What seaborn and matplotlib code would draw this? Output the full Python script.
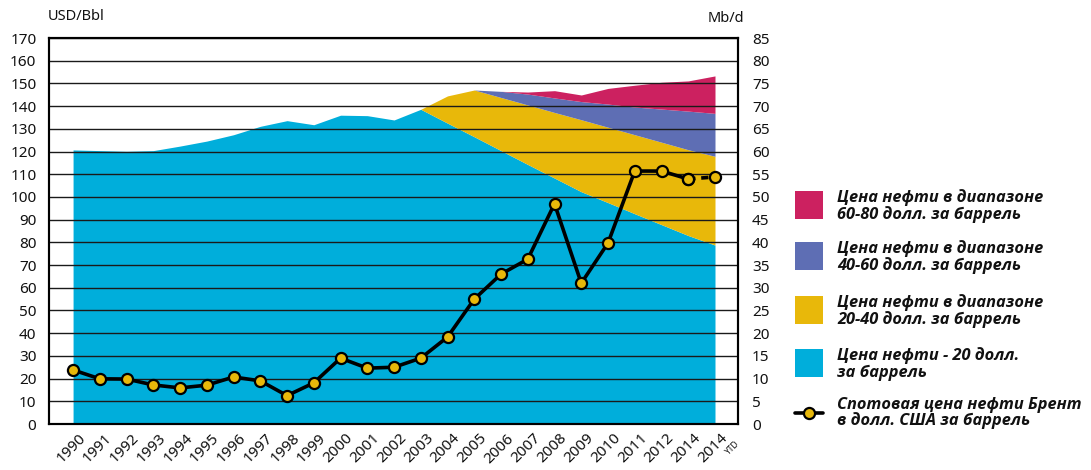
import numpy as np
import seaborn as sns
import matplotlib.pyplot as plt
import matplotlib.transforms as mtrans
from matplotlib.patches import Rectangle
from matplotlib.lines import Line2D

sns.set_theme(style="white")
plt.rcParams["font.family"] = ["Noto Sans", "DejaVu Sans"]

# -------------------------
# данные
# -------------------------
years = ["1990", "1991", "1992", "1993", "1994", "1995", "1996", "1997", "1998",
         "1999", "2000", "2001", "2002", "2003", "2004", "2005", "2006", "2007",
         "2008", "2009", "2010", "2011", "2012", "2014", "2014"]
# спотовая цена Brent, USD/bbl
brent = [23.8, 19.9, 19.8, 17.2, 15.9, 17.1, 20.7, 19.0, 12.5, 18.1, 29.0, 24.6,
         25.0, 29.0, 38.3, 55.0, 66.0, 72.6, 97.0, 62.0, 79.7, 111.4, 111.4, 107.9, 108.8]
# объемы добычи по диапазонам цены, Mb/d
vol_20 = [60.35, 60.2, 60.05, 60.2, 61.2, 62.3, 63.7, 65.55, 66.8, 65.9, 68.0, 67.9,
          66.95, 69.3, 66.25, 63.25, 60.2, 57.15, 54.15, 51.15, 48.75, 46.3, 43.9, 41.5, 39.4]
vol_20_40 = [0, 0, 0, 0, 0, 0, 0, 0, 0, 0, 0, 0,
             0, 0, 6.0, 10.3, 11.7, 13.1, 14.45, 15.85, 16.6, 17.4, 18.15, 18.9, 19.55]
vol_40_60 = [0, 0, 0, 0, 0, 0, 0, 0, 0, 0, 0, 0,
             0, 0, 0, 0, 1.35, 2.4, 3.2, 4.0, 5.1, 6.1, 7.3, 8.5, 9.45]
vol_60_80 = [0, 0, 0, 0, 0, 0, 0, 0, 0, 0, 0, 0,
             0, 0, 0, 0, 0, 0.45, 1.6, 1.45, 3.45, 4.8, 5.9, 6.65, 8.25]

c_blue, c_yellow, c_purple, c_red = "#00AEDB", "#E8B80A", "#5E6EB4", "#CC2160"
leg_font = ["Open Sans", "Lato", "Roboto", "DejaVu Sans"]

W, H = 1091, 470
fig = plt.figure(figsize=(W / 100, H / 100), dpi=100)
ax = fig.add_axes([49 / W, 1 - 424 / H, (738 - 49) / W, (424 - 38) / H])
x = np.arange(len(years))

ax.stackplot(x, vol_20, vol_20_40, vol_40_60, vol_60_80,
             colors=[c_blue, c_yellow, c_purple, c_red], linewidth=0)
ax.set_xlim(-0.9, 24.86)
ax.set_ylim(0, 85)
ax.set_yticks(np.arange(0, 86, 5))
ax.grid(axis="y", color="#1a1a1a", lw=1.0)
ax.grid(axis="x", visible=False)
ax.set_axisbelow(False)

ax2 = ax.twinx()
ax2.set_ylim(0, 170)
ax2.set_yticks(np.arange(0, 171, 10))
ax2.grid(False)
ax.yaxis.tick_right()
ax2.yaxis.tick_left()

# цена Brent
sns.lineplot(x=x[-2:], y=brent[-2:], ax=ax2, color="black", lw=2.6,
             linestyle=(0, (2, 1.6)), marker="o", markersize=8,
             markerfacecolor=c_yellow, markeredgecolor="black", markeredgewidth=1.6)
sns.lineplot(x=x[:-1], y=brent[:-1], ax=ax2, color="black", lw=2.6,
             marker="o", markersize=8,
             markerfacecolor=c_yellow, markeredgecolor="black", markeredgewidth=1.6)

for a in (ax, ax2):
    for s in a.spines.values():
        s.set_color("black")
        s.set_linewidth(1.5)
    a.tick_params(axis="y", length=0, labelsize=11, colors="#111111")
    a.set_xlabel("")
    a.set_ylabel("")
ax2.tick_params(axis="y", pad=9)
ax.tick_params(axis="y", pad=10)

ax.set_xticks(x)
ax.set_xticklabels(years, rotation=45, ha="right", rotation_mode="anchor",
                   fontsize=11, color="#111111")
ax.tick_params(axis="x", length=0, pad=5)
shift = mtrans.ScaledTranslation(5 / 100, 0, fig.dpi_scale_trans)
for lbl in ax.get_xticklabels():
    lbl.set_transform(lbl.get_transform() + shift)
ax.text(24.35, -3.4, "YTD", fontsize=6, rotation=45, ha="left", va="top",
        color="#111111")

fig.text(48 / W, 1 - 17 / H, "USD/Bbl", fontsize=10.5, ha="left", va="center", color="#111111")
fig.text(726 / W, 1 - 18 / H, "Mb/d", fontsize=10.5, ha="center", va="center", color="#111111")

# легенда
items = [
    (c_red, 205, "Цена нефти в диапазоне\n60-80 долл. за баррель"),
    (c_purple, 256, "Цена нефти в диапазоне\n40-60 долл. за баррель"),
    (c_yellow, 310, "Цена нефти в диапазоне\n20-40 долл. за баррель"),
    (c_blue, 363, "Цена нефти - 20 долл.\nза баррель"),
]
for col, yc, label in items:
    fig.add_artist(Rectangle((795 / W, 1 - (yc + 14) / H), 28 / W, 28 / H,
                             transform=fig.transFigure, color=col, lw=0))
    fig.text(837 / W, 1 - (yc + 1) / H, label, fontsize=11.8, fontweight="bold",
             fontstyle="italic", family=leg_font, ha="left", va="center",
             linespacing=1.0, color="#111111")

fig.add_artist(Line2D([795 / W, 823 / W], [1 - 413 / H] * 2, transform=fig.transFigure,
                      color="black", lw=2.6))
fig.add_artist(Line2D([809 / W], [1 - 413 / H], transform=fig.transFigure, marker="o",
                      markersize=8, markerfacecolor=c_yellow, markeredgecolor="black",
                      markeredgewidth=1.6))
fig.text(837 / W, 1 - 413 / H, "Спотовая цена нефти Брент\nв долл. США за баррель",
         fontsize=11.8, fontweight="bold", fontstyle="italic", family=leg_font,
         ha="left", va="center", linespacing=1.0, color="#111111")

fig.savefig("out.png", dpi=100)
